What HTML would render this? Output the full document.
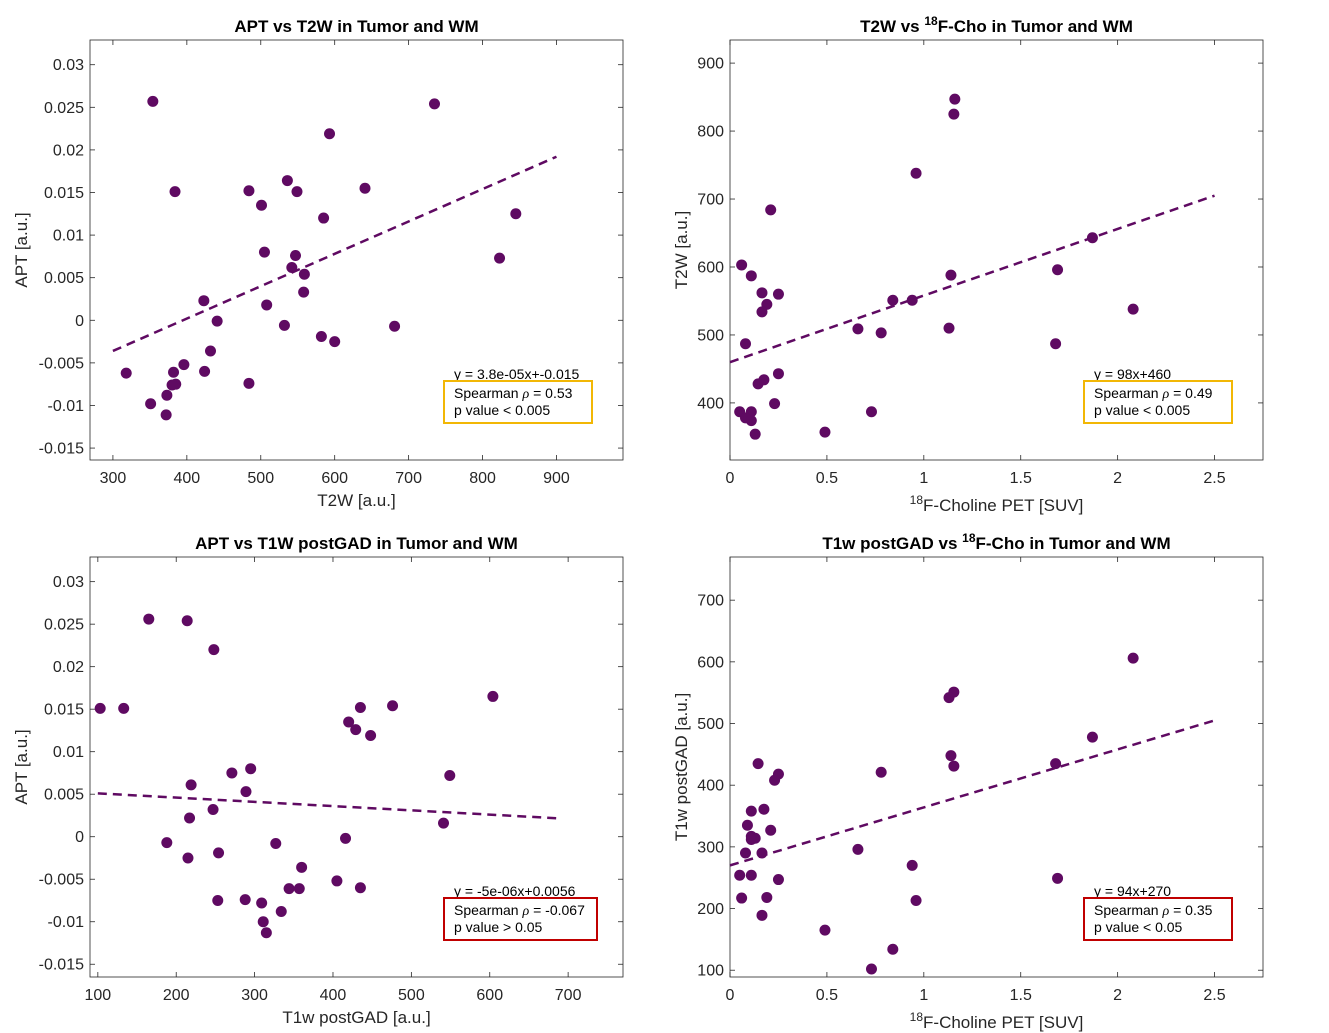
<!DOCTYPE html>
<html><head><meta charset="utf-8"><style>
body{margin:0;background:#fff;}
svg{display:block;font-family:"Liberation Sans",sans-serif;}
</style></head><body>
<svg id="fig" width="1329" height="1033" viewBox="0 0 1329 1033"></svg>
<script>
// Panel 1: APT vs T2W
const p1X=[354,735,593,384,484,536,549,641,501,585,845,505,547,542,559,558,508,423,441,532,681,823,582,600,432,396,424,382,385,380,373,318,351,372,484];
const p1Y=[0.0257,0.0254,0.0219,0.0151,0.0152,0.0164,0.0151,0.0155,0.0135,0.0120,0.0125,0.0080,0.0076,0.0062,0.0054,0.0033,0.0018,0.0023,-0.0001,-0.0006,-0.0007,0.0073,-0.0019,-0.0025,-0.0036,-0.0052,-0.0060,-0.0061,-0.0075,-0.0076,-0.0088,-0.0062,-0.0098,-0.0111,-0.0074];
const p1XTicks=[300,400,500,600,700,800,900];
const p1YTicks=[-0.015,-0.01,-0.005,0,0.005,0.01,0.015,0.02,0.025,0.03];
const p1Fit=[3.8e-5,-0.015];
// Panel 2: T2W vs Cho
const p2X=[1.16,1.155,0.96,0.21,0.06,0.11,1.14,1.69,1.87,0.165,0.25,0.19,0.165,0.84,0.94,2.08,0.66,0.78,1.13,1.68,0.08,0.25,0.175,0.145,0.23,0.05,0.11,0.08,0.11,0.13,0.49,0.73];
const p2Y=[847,825,738,684,603,587,588,596,643,562,560,545,534,551,551,538,509,503,510,487,487,443,434,428,399,387,387,378,374,354,357,387];
const p2XTicks=[0,0.5,1,1.5,2,2.5];
const p2YTicks=[400,500,600,700,800,900];
const p2Fit=[98,460];
// Panel 3: APT vs T1w postGAD
const p3X=[165,214,248,103,133,604,435,476,420,429,448,549,271,295,219,289,247,217,541,416,188,327,215,254,360,405,344,357,435,253,288,309,334,311,315];
const p3Y=[0.0256,0.0254,0.0220,0.0151,0.0151,0.0165,0.0152,0.0154,0.0135,0.0126,0.0119,0.0072,0.0075,0.0080,0.0061,0.0053,0.0032,0.0022,0.0016,-0.0002,-0.0007,-0.0008,-0.0025,-0.0019,-0.0036,-0.0052,-0.0061,-0.0061,-0.0060,-0.0075,-0.0074,-0.0078,-0.0088,-0.0100,-0.0113];
const p3XTicks=[100,200,300,400,500,600,700];
const p3YTicks=[-0.015,-0.01,-0.005,0,0.005,0.01,0.015,0.02,0.025,0.03];
const p3Fit=[-5e-6,0.0056];
// Panel 4: T1w postGAD vs Cho
const p4X=[2.08,1.155,1.13,1.87,1.14,1.155,1.68,0.145,0.25,0.23,0.78,0.11,0.175,0.09,0.21,0.11,0.13,0.11,0.08,0.165,0.66,0.94,0.05,0.11,0.25,1.69,0.06,0.19,0.96,0.165,0.49,0.84,0.73];
const p4Y=[606,551,542,478,448,431,435,435,418,408,421,358,361,335,327,317,314,312,290,290,296,270,254,254,247,249,217,218,213,189,165,134,102];
const p4XTicks=[0,0.5,1,1.5,2,2.5];
const p4YTicks=[100,200,300,400,500,600,700];
const p4Fit=[94,270];

const NS="http://www.w3.org/2000/svg";
const svg=document.getElementById('fig');
function mk(tag,attrs,parent,text){const e=document.createElementNS(NS,tag);for(const k in attrs)e.setAttribute(k,attrs[k]);if(text!==undefined)e.textContent=text;(parent||svg).appendChild(e);return e;}
const PURPLE="#5f0a62";

function panel(cfg){
  const g=mk('g',{});
  
  
  const {L,R,T,B,xr,yr}=cfg;
  const sx=v=>L+(v-xr[0])/(xr[1]-xr[0])*(R-L);
  const sy=v=>B-(v-yr[0])/(yr[1]-yr[0])*(B-T);
  const frame=mk('rect',{x:L,y:T,width:R-L,height:B-T,fill:'#fff',stroke:'#262626','stroke-width':0.8},g);
  
  
  cfg.xt.forEach(v=>{
    const x=sx(v);
    mk('line',{x1:x,x2:x,y1:B,y2:B-5,stroke:'#262626','stroke-width':0.8},g);
    mk('line',{x1:x,x2:x,y1:T,y2:T+5,stroke:'#262626','stroke-width':0.8},g);
    const t=mk('text',{x:x,y:B+23,'text-anchor':'middle','font-size':16,fill:'#262626'},g,cfg.fx(v));
    
    
  });
  cfg.yt.forEach(v=>{
    const y=sy(v);
    mk('line',{x1:L,x2:L+5,y1:y,y2:y,stroke:'#262626','stroke-width':0.8},g);
    mk('line',{x1:R,x2:R-5,y1:y,y2:y,stroke:'#262626','stroke-width':0.8},g);
    const t=mk('text',{x:L-6,y:y+5.5,'text-anchor':'end','font-size':16,fill:'#262626'},g,cfg.fy(v));
    
    
  });
  cfg.X.forEach((xv,i)=>{
    const c=mk('circle',{cx:sx(xv),cy:sy(cfg.Y[i]),r:5.5,fill:PURPLE},g);
    
    
  });
  const [a,b]=cfg.fit;
  const fl=mk('line',{x1:sx(cfg.fitR[0]),y1:sy(a*cfg.fitR[0]+b),x2:sx(cfg.fitR[1]),y2:sy(a*cfg.fitR[1]+b),stroke:PURPLE,'stroke-width':2.5,'stroke-dasharray':'9,6'},g);
  
  
  const tt=mk('text',{x:(L+R)/2,y:T-8,'text-anchor':'middle','font-size':17,'font-weight':'bold',fill:'#000'},g);
  
  
  tt.innerHTML=cfg.title;
  const xl=mk('text',{x:(L+R)/2,y:B+46+(cfg.xlOff||0),'text-anchor':'middle','font-size':17,fill:'#262626'},g);
  
  
  xl.innerHTML=cfg.xlab;
  const yl=mk('text',{x:0,y:0,'text-anchor':'middle','font-size':17,fill:'#262626',transform:`translate(${cfg.ylx},${(T+B)/2}) rotate(-90)`},g,cfg.ylab);
  
  
  const bx=cfg.box;
  const eq=mk('text',{x:bx[0]+10,y:bx[1]-2,'font-size':14,fill:'#000'},g,cfg.eq);
  
  
  const br=mk('rect',{x:bx[0],y:bx[1],width:bx[2],height:42,fill:'none',stroke:cfg.bc,'stroke-width':2},g);
  
  
  const s1=mk('text',{x:bx[0]+10,y:bx[1]+17,'font-size':14,fill:'#000'},g);
  s1.innerHTML='Spearman <tspan font-family="Liberation Serif" font-style="italic">ρ</tspan> = '+cfg.rho;
  
  
  const s2=mk('text',{x:bx[0]+10,y:bx[1]+34,'font-size':14,fill:'#000'},g,cfg.pv);
  
  
}
const fApt=v=>v===0?'0':String(v);
const fNum=v=>String(v);
const cho='<tspan baseline-shift="super" font-size="12">18</tspan>F-Choline PET [SUV]';
panel({name:'panel-apt-vs-t2w',L:90,R:623,T:40,B:460,xr:[269,990],yr:[-0.0164,0.0329],xt:p1XTicks,yt:p1YTicks,fx:fNum,fy:fApt,X:p1X,Y:p1Y,fit:p1Fit,fitR:[300,900],
  title:'APT vs T2W in Tumor and WM',xlab:'T2W [a.u.]',ylab:'APT [a.u.]',ylx:27,box:[444,381,148],bc:'#f2b705',eq:'y = 3.8e-05x+-0.015',rho:'0.53',pv:'p value < 0.005'});
panel({name:'panel-t2w-vs-cho',L:730,R:1263,T:40,B:460,xr:[0,2.75],yr:[316,934],xt:p2XTicks,yt:p2YTicks,fx:fNum,fy:fNum,X:p2X,Y:p2Y,fit:p2Fit,fitR:[0,2.5],xlOff:5,
  title:'T2W vs <tspan baseline-shift="super" font-size="12">18</tspan>F-Cho in Tumor and WM',xlab:cho,ylab:'T2W [a.u.]',ylx:687,box:[1084,381,148],bc:'#f2b705',eq:'y = 98x+460',rho:'0.49',pv:'p value < 0.005'});
panel({name:'panel-apt-vs-t1w',L:90,R:623,T:557,B:977,xr:[90,770],yr:[-0.0165,0.0329],xt:p3XTicks,yt:p3YTicks,fx:fNum,fy:fApt,X:p3X,Y:p3Y,fit:p3Fit,fitR:[100,690],
  title:'APT vs T1W postGAD in Tumor and WM',xlab:'T1w postGAD [a.u.]',ylab:'APT [a.u.]',ylx:27,box:[444,898,153],bc:'#c00000',eq:'y = -5e-06x+0.0056',rho:'-0.067',pv:'p value > 0.05'});
panel({name:'panel-t1w-vs-cho',L:730,R:1263,T:557,B:977,xr:[0,2.75],yr:[89,770],xt:p4XTicks,yt:p4YTicks,fx:fNum,fy:fNum,X:p4X,Y:p4Y,fit:p4Fit,fitR:[0,2.5],xlOff:5,
  title:'T1w postGAD vs <tspan baseline-shift="super" font-size="12">18</tspan>F-Cho in Tumor and WM',xlab:cho,ylab:'T1w postGAD [a.u.]',ylx:687,box:[1084,898,148],bc:'#c00000',eq:'y = 94x+270',rho:'0.35',pv:'p value < 0.05'});
</script>
</body></html>
